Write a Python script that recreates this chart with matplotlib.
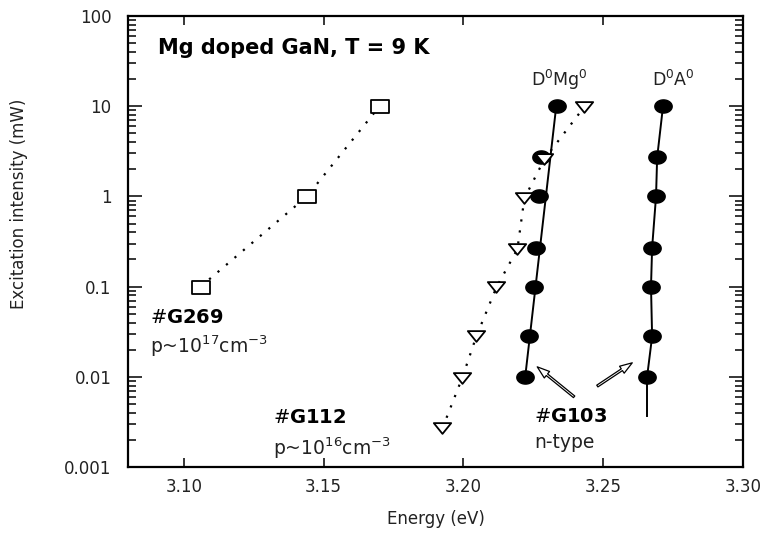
import numpy as np
import matplotlib
matplotlib.use('Agg')
import matplotlib.pyplot as plt
from matplotlib.path import Path
from matplotlib.ticker import LogLocator, NullLocator, FixedLocator, FixedFormatter

# datos
g269_x = [3.106, 3.144, 3.170]
g269_y = [0.1, 1.0, 10.0]

g112_x = [3.1925, 3.1996, 3.2046, 3.2118, 3.2193, 3.2218, 3.2290, 3.2432]
g112_y = [0.0027, 0.0098, 0.028, 0.098, 0.26, 0.95, 2.6, 9.8]

d0mg0_x = [3.2221, 3.2236, 3.2254, 3.2260, 3.2271, 3.2279, 3.2336]
d0mg0_y = [0.01, 0.028, 0.1, 0.27, 1.0, 2.7, 10.0]
# recta de ajuste D0Mg0
d0mg0_ajuste_x = [3.2221, 3.2332]
d0mg0_ajuste_y = [0.01, 10.0]

d0a0_x = [3.2657, 3.2675, 3.2671, 3.2675, 3.2689, 3.2693, 3.2714]
d0a0_y = [0.01, 0.028, 0.1, 0.27, 1.0, 2.7, 10.0]
d0a0_cola_x = [3.2657, 3.2657]
d0a0_cola_y = [0.0037, 0.01]

xticks = [3.10, 3.15, 3.20, 3.25, 3.30]
xtick_labels = ['3.10', '3.15', '3.20', '3.25', '3.30']
yticks = [0.001, 0.01, 0.1, 1, 10, 100]
ytick_labels = ['0.001', '0.01', '0.1', '1', '10', '100']

# marcadores (rectangulo, triangulo y elipse aplanados)
rect = Path([(-1, -0.72), (1, -0.72), (1, 0.72), (-1, 0.72), (-1, -0.72)],
            [Path.MOVETO, Path.LINETO, Path.LINETO, Path.LINETO, Path.CLOSEPOLY])
tri = Path([(-1, 0.62), (1, 0.62), (0, -0.62), (-1, 0.62)],
           [Path.MOVETO, Path.LINETO, Path.LINETO, Path.CLOSEPOLY])
t = np.linspace(0, 2 * np.pi, 40)
elipse = Path(np.column_stack([np.cos(t), 0.76 * np.sin(t)]), closed=True)

fig = plt.figure(figsize=(7.65, 5.33), dpi=100)
ax = fig.add_axes([0.1673, 0.1238, 0.8039, 0.8462])

ax.plot(g269_x, g269_y, color='black', lw=1.6, ls=(0, (1, 4)),
        marker=rect, ms=13, mfc='white', mec='black', mew=1.3)
ax.plot(d0mg0_ajuste_x, d0mg0_ajuste_y, color='black', lw=1.4)
ax.plot(d0mg0_x, d0mg0_y, ls='none',
        marker=elipse, ms=12.5, mfc='black', mec='black')
ax.plot(g112_x, g112_y, color='black', lw=1.6, ls=(0, (1, 4)),
        marker=tri, ms=12.5, mfc='white', mec='black', mew=1.3)
ax.plot(d0a0_x, d0a0_y, color='black', lw=1.4,
        marker=elipse, ms=12.5, mfc='black', mec='black')
ax.plot(d0a0_cola_x, d0a0_cola_y, color='black', lw=1.4)

ax.set_yscale('log')
ax.set_xlim(3.08, 3.30)
ax.set_ylim(0.001, 100)

ax.xaxis.set_major_locator(FixedLocator(xticks))
ax.xaxis.set_major_formatter(FixedFormatter(xtick_labels))
ax.xaxis.set_minor_locator(NullLocator())
ax.yaxis.set_major_locator(FixedLocator(yticks))
ax.yaxis.set_major_formatter(FixedFormatter(ytick_labels))
ax.yaxis.set_minor_locator(LogLocator(base=10, subs=np.arange(2, 10)))

ax.tick_params(axis='both', which='both', direction='in', top=True, right=True,
               width=1.1, labelsize=12, labelcolor='#222222')
ax.tick_params(axis='x', which='major', length=6.5, pad=8)
ax.tick_params(axis='y', which='major', length=10, pad=12)
ax.tick_params(axis='y', which='minor', length=5.5)
for s in ax.spines.values():
    s.set_linewidth(1.6)

ax.set_xlabel('Energy (eV)', fontsize=12, labelpad=10, color='#222222')
ax.set_ylabel('Excitation intensity (mW)', fontsize=12, color='#222222')
ax.yaxis.set_label_coords(-0.163, 0.583)

ax.text(0.049, 0.929, 'Mg doped GaN, T = 9 K', transform=ax.transAxes,
        fontsize=15, fontweight='bold', va='center', ha='left')

ax.text(3.2243, 19.4, r'D$^0$Mg$^0$', fontsize=12.5, va='center', color='#222222')
ax.text(3.2675, 19.4, r'D$^0$A$^0$', fontsize=12.5, va='center', color='#222222')

ax.text(3.0879, 0.045, r'#$\mathbf{G269}$', fontsize=14, va='center')
ax.text(3.0879, 0.0216, r'p~10$^{17}$cm$^{-3}$', fontsize=13.5, va='center', color='#222222')
ax.text(3.1318, 0.0035, r'#$\mathbf{G112}$', fontsize=14, va='center')
ax.text(3.1318, 0.00163, r'p~10$^{16}$cm$^{-3}$', fontsize=13.5, va='center', color='#222222')
ax.text(3.2254, 0.0036, r'#$\mathbf{G103}$', fontsize=14, va='center')
ax.text(3.2254, 0.00185, 'n-type', fontsize=13.5, va='center', color='#222222')

flecha = dict(arrowstyle='simple,head_length=0.9,head_width=0.6,tail_width=0.15',
              fc='white', ec='black', lw=0.9, shrinkA=0, shrinkB=0)
ax.annotate('', xy=(3.2264, 0.0129), xytext=(3.2396, 0.006), arrowprops=flecha)
ax.annotate('', xy=(3.2604, 0.0143), xytext=(3.2479, 0.0079), arrowprops=flecha)

plt.savefig('out.png', dpi=100)
